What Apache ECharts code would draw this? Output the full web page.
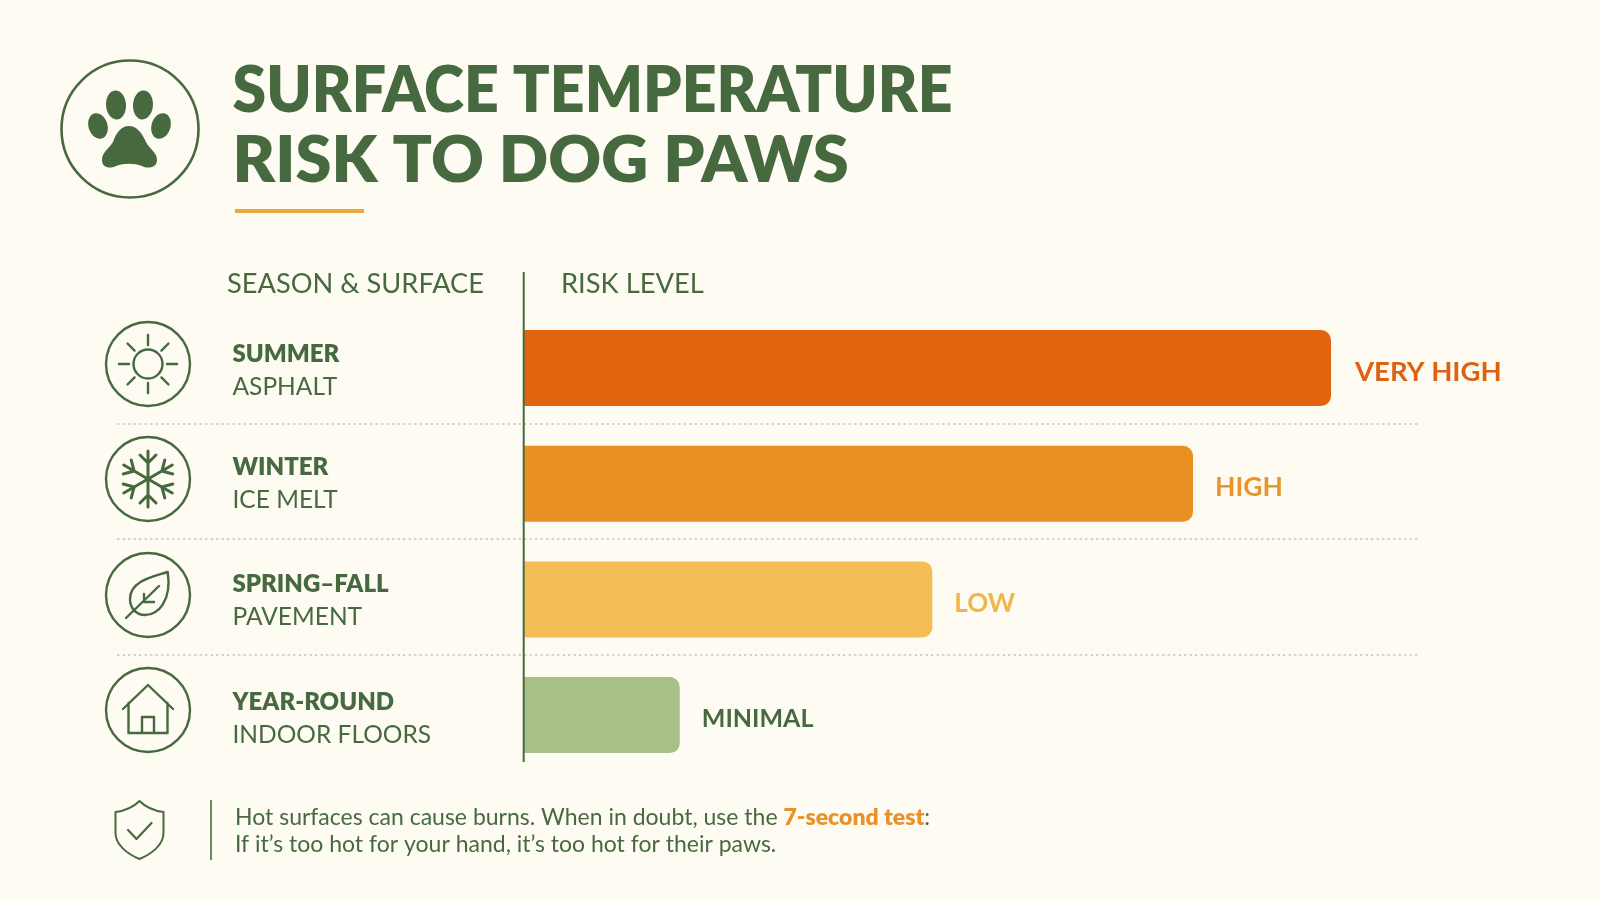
<!DOCTYPE html>
<html>
<head>
<meta charset="utf-8">
<title>Surface temperature risk to dog paws</title>
<script src="https://cdn.jsdelivr.net/npm/echarts@6/dist/echarts.min.js"></script>
<style>
  html, body { margin: 0; padding: 0; background: #FEFBF3; }
  #chart { width: 1599px; height: 900px; }
</style>
</head>
<body>
<div id="chart"></div>
<script>
// Chart data
const seasons = ['SUMMER', 'WINTER', 'SPRING–FALL', 'YEAR-ROUND'];
const surfaces = ['ASPHALT', 'ICE MELT', 'PAVEMENT', 'INDOOR FLOORS'];
const riskScores = [100, 82.9, 50.6, 19.3];
const riskLabels = ['VERY HIGH', 'HIGH', 'LOW', 'MINIMAL'];

// Palette and per-row text tuning
const GREEN = '#47693F';
const barColors = ['#E2640F', '#EA9022', '#F3BE55', '#A9BF88'];
const labelColors = ['#DC6212', '#E8952B', '#F0B64E', '#47693F'];
const labelFontSizes = [27.5, 26.5, 26, 25];
const labelGaps = [24, 22, 22, 22];
const categoryNudge = [6, 0, 2, 8];
const FONT = 'Lato, "Open Sans", sans-serif';

const chart = echarts.init(document.getElementById('chart'));

// Register an SVG path string as a graphic element type
let shapeCount = 0;
const pathType = d => {
  const name = 'iconPath' + (shapeCount++);
  echarts.graphic.registerShape(name, echarts.graphic.extendPath(d, {}));
  return name;
};
const line = (d, w, extra) => Object.assign({
  type: pathType(d),
  style: { fill: 'none', stroke: GREEN, lineWidth: w || 2.4, lineCap: 'round', lineJoin: 'round' }
}, extra || {});
const solid = d => ({ type: pathType(d), style: { fill: GREEN } });
const ring = r => ({
  type: 'circle', shape: { cx: 0, cy: 0, r: r },
  style: { fill: 'none', stroke: GREEN, lineWidth: 2.4 }
});

// Icons, each drawn around its own origin
const sunIcon = { type: 'group', x: 148, y: 364, children: [
  ring(42),
  { type: 'circle', shape: { cx: 0, cy: 0, r: 14.5 }, style: { fill: 'none', stroke: GREEN, lineWidth: 2.4 } },
  line('M0,-19L0,-29M0,19L0,29M-19,0L-29,0M19,0L29,0M13.4,-13.4L20.5,-20.5M-13.4,-13.4L-20.5,-20.5M13.4,13.4L20.5,20.5M-13.4,13.4L-20.5,20.5')
] };
const armPath = 'M0,0L0,-28M-8,-24L0,-16L8,-24';
const snowIcon = { type: 'group', x: 148, y: 479, children: [
  ring(42),
  ...[0, 60, 120, 180, 240, 300].map(a => line(armPath, 3, { rotation: a * Math.PI / 180 }))
] };
const leafIcon = { type: 'group', x: 148, y: 595, children: [
  ring(42),
  line('M19.7,-23C8,-19 -18,-15 -18,4C-18,13 -12,20 -3,20C10,20 24,6 19.7,-23Z'),
  line('M-22,23L11,-9M-4,-1L-4,7L6,7')
] };
const houseIcon = { type: 'group', x: 148, y: 710, children: [
  ring(42),
  line('M-25,-1L0,-25L25,-1M-19.5,-7L-19.5,23L19.5,23L19.5,-7M-6,23L-6,7L6,7L6,23')
] };
const shieldIcon = { type: 'group', x: 139.5, y: 830, children: [
  line('M0,-29C-6,-23 -16,-19 -24,-18L-24,3C-24,15 -12,24 0,29C12,24 24,15 24,3L24,-18C16,-19 6,-23 0,-29Z', 2),
  line('M-11.5,0L-3,9L12,-7', 2.2)
] };
const pawBadge = { type: 'group', children: [
  { type: 'circle', shape: { cx: 130, cy: 129, r: 68.5 }, style: { fill: 'none', stroke: GREEN, lineWidth: 2.6 } },
  { type: 'ellipse', x: 116, y: 105, rotation: 0.06, shape: { cx: 0, cy: 0, rx: 10, ry: 14.5 }, style: { fill: GREEN } },
  { type: 'ellipse', x: 143, y: 105, rotation: -0.06, shape: { cx: 0, cy: 0, rx: 10, ry: 14.5 }, style: { fill: GREEN } },
  { type: 'ellipse', x: 98, y: 126, rotation: 0.3, shape: { cx: 0, cy: 0, rx: 9.5, ry: 13 }, style: { fill: GREEN } },
  { type: 'ellipse', x: 161, y: 126, rotation: -0.3, shape: { cx: 0, cy: 0, rx: 9.5, ry: 13 }, style: { fill: GREEN } },
  solid('M129,126C137,126 142,133 146,142C150,150 157,152 157,160C157,168 148,169 142,166C134,163 124,163 116,166C110,169 102,168 102,160C102,152 108,150 113,142C116,133 121,126 129,126Z')
] };

const rule = (x1, y1, x2, y2, stroke, lineWidth, lineDash) => ({
  type: 'line', shape: { x1, y1, x2, y2 },
  style: { stroke, lineWidth, lineDash: lineDash || null }
});
const separators = [424, 539, 655].map(y => rule(117, y, 1419, y, '#C9C9BA', 1.4, [2.5, 3]));

const label = (x, y, text, size, weight, scaleX) => ({
  type: 'text', x, y, scaleX: scaleX || 1,
  style: { text, fill: GREEN, font: `${weight || 400} ${size}px ${FONT}` }
});

chart.setOption({
  backgroundColor: '#FEFBF3',
  animation: false,
  grid: { left: 524, top: 310.2, width: 807, height: 462.7 },
  xAxis: { type: 'value', min: 0, max: 100, show: false },
  yAxis: {
    type: 'category',
    inverse: true,
    data: seasons.map((s, i) => ({
      value: s + '\n' + surfaces[i],
      textStyle: { align: 'left', padding: [categoryNudge[i], 0, 0, 0] }
    })),
    axisLine: { show: false },
    axisTick: { show: false },
    axisLabel: {
      margin: 291.5,
      align: 'left',
      formatter: v => {
        const [season, surface] = v.split('\n');
        return `{s|${season}}\n{t|${surface}}`;
      },
      rich: {
        s: { fontFamily: FONT, fontWeight: 800, fontSize: 24, color: GREEN, lineHeight: 33 },
        t: { fontFamily: FONT, fontWeight: 400, fontSize: 24.5, color: GREEN, lineHeight: 33 }
      }
    }
  },
  series: [{
    type: 'bar',
    barWidth: 76,
    data: riskScores.map((v, i) => ({
      value: v,
      itemStyle: { color: barColors[i] },
      label: { color: labelColors[i], fontSize: labelFontSizes[i], distance: labelGaps[i] }
    })),
    itemStyle: { borderRadius: [0, 10, 10, 0] },
    label: {
      show: true,
      position: 'right',
      offset: [0, 4],
      fontFamily: FONT,
      fontWeight: 700,
      formatter: p => riskLabels[p.dataIndex]
    },
    z: 3
  }],
  graphic: [
    pawBadge,
    label(232.5, 59, 'SURFACE TEMPERATURE', 65, 800, 0.935),
    label(232.5, 129, 'RISK TO DOG PAWS', 65, 800, 1.0),
    { type: 'rect', shape: { x: 235, y: 209, width: 129, height: 4 }, style: { fill: '#EBA83A' } },
    label(227, 271, 'SEASON & SURFACE', 27, 400, 1.008),
    label(561, 271, 'RISK LEVEL', 27, 400, 1.012),
    ...separators,
    Object.assign(rule(523.7, 272, 523.7, 762, GREEN, 2), { z: 10 }),
    sunIcon, snowIcon, leafIcon, houseIcon, shieldIcon,
    rule(211, 800, 211, 860, GREEN, 1.6),
    {
      type: 'text', x: 235, y: 804,
      style: {
        text: '{n|Hot surfaces can cause burns. When in doubt, use the }{o|7-second test}{n|:}\n{n|If it’s too hot for your hand, it’s too hot for their paws.}',
        rich: {
          n: { font: `400 23px ${FONT}`, fill: GREEN, lineHeight: 27 },
          o: { font: `800 23px ${FONT}`, fill: '#E8922A', lineHeight: 27 }
        }
      }
    }
  ]
});
</script>
</body>
</html>
